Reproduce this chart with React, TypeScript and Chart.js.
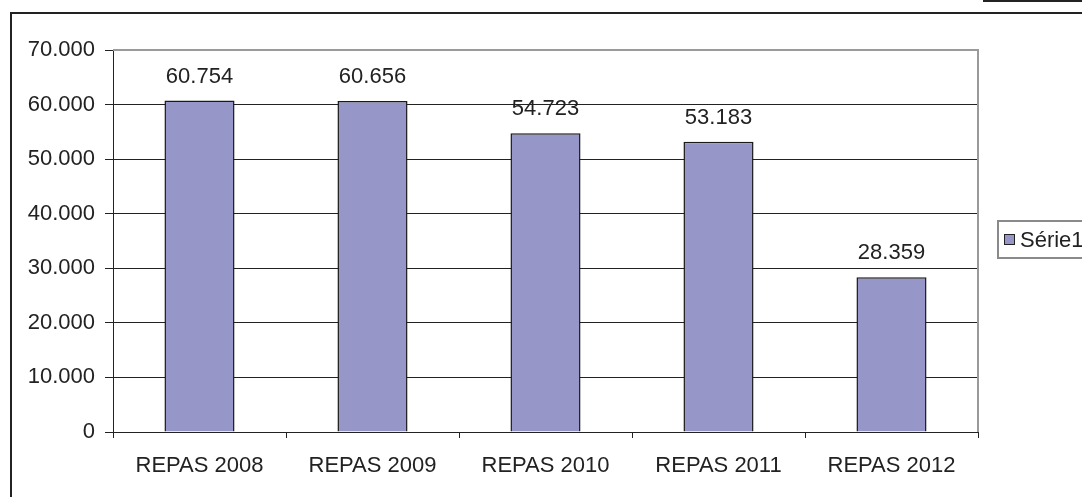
import React, { useEffect, useRef } from "react";
import { Chart, registerables } from "chart.js";

Chart.register(...registerables);

const categories = ["REPAS 2008", "REPAS 2009", "REPAS 2010", "REPAS 2011", "REPAS 2012"];
const values = [60754, 60656, 54723, 53183, 28359];
const seriesName = "Série1";
const yMax = 70000;
const yStep = 10000;

const FONT = "'Liberation Sans', Arial, sans-serif";
const BAR_COLOR = "#9696C8";

function fmt(v: number): string {
  return String(Math.round(v)).replace(/\B(?=(\d{3})+(?!\d))/g, ".");
}

const decorPlugin = {
  id: "decor",
  beforeDraw(chart: any) {
    const ctx = chart.ctx;
    ctx.save();
    ctx.fillStyle = "#fff";
    ctx.fillRect(0, 0, chart.width, chart.height);
    // outer frame
    ctx.strokeStyle = "#222";
    ctx.lineWidth = 2;
    ctx.strokeRect(11, 13, chart.width + 20, chart.height + 20);
    // small top-right line
    ctx.fillStyle = "#222";
    ctx.fillRect(983, 0, chart.width - 983, 2);
    ctx.restore();
  },
  afterDraw(chart: any) {
    const ctx = chart.ctx;
    const a = chart.chartArea;
    ctx.save();
    // plot area gray top and right border
    ctx.strokeStyle = "#9a9a9a";
    ctx.lineWidth = 2;
    ctx.beginPath();
    ctx.moveTo(a.left, a.top);
    ctx.lineTo(a.right, a.top);
    ctx.lineTo(a.right, a.bottom);
    ctx.stroke();
    // data labels
    const meta = chart.getDatasetMeta(0);
    ctx.fillStyle = "#222";
    ctx.font = `22px ${FONT}`;
    ctx.textAlign = "center";
    ctx.textBaseline = "middle";
    meta.data.forEach((bar: any, i: number) => {
      ctx.fillText(fmt(values[i]), bar.x, bar.y - 24);
    });
    // legend
    ctx.strokeStyle = "#8a8a8a";
    ctx.lineWidth = 2;
    ctx.strokeRect(998, 221, 120, 37);
    ctx.fillStyle = BAR_COLOR;
    ctx.fillRect(1004, 234, 11, 11);
    ctx.strokeStyle = "#222";
    ctx.lineWidth = 1;
    ctx.strokeRect(1004.5, 234.5, 10, 10);
    ctx.fillStyle = "#222";
    ctx.textAlign = "left";
    ctx.font = `22px ${FONT}`;
    ctx.fillText(seriesName, 1020, 241);
    ctx.restore();
  },
};

export default function App() {
  const ref = useRef<HTMLCanvasElement | null>(null);
  useEffect(() => {
    if (!ref.current) return;
    const chart = new Chart(ref.current, {
      type: "bar",
      data: {
        labels: categories,
        datasets: [
          {
            label: seriesName,
            data: values,
            backgroundColor: BAR_COLOR,
            borderColor: "#1a1a1a",
            borderWidth: 1.5,
            categoryPercentage: 1,
            barPercentage: 0.405,
          },
        ],
      },
      options: {
        responsive: false,
        animation: false,
        devicePixelRatio: 1,
        layout: { padding: { top: 50, right: 104, left: 0, bottom: 0 } },
        plugins: { legend: { display: false }, tooltip: { enabled: false } },
        scales: {
          x: {
            offset: true,
            grid: {
              offset: true,
              drawOnChartArea: false,
              drawTicks: true,
              tickLength: 6,
              color: "#222",
            },
            border: { color: "#222", width: 1 },
            ticks: {
              color: "#222",
              font: { family: FONT, size: 22 },
              padding: 15,
              maxRotation: 0,
            },
            afterFit: (s: any) => {
              s.height = 65;
            },
          },
          y: {
            min: 0,
            max: yMax,
            grid: {
              color: (c: any) => (c.tick && c.tick.value === yMax ? "rgba(0,0,0,0)" : "#222"),
              tickColor: "#222",
              drawTicks: true,
              tickLength: 8,
              lineWidth: 1,
            },
            border: { color: "#222", width: 1 },
            ticks: {
              stepSize: yStep,
              color: "#222",
              font: { family: FONT, size: 22 },
              padding: 10,
              callback: (v: any) => fmt(Number(v)),
            },
            afterFit: (s: any) => {
              s.width = 113;
            },
          },
        },
      },
      plugins: [decorPlugin],
    });
    return () => chart.destroy();
  }, []);
  return (
    <div style={{ position: "fixed", left: 0, top: 0, width: 1082, height: 497, background: "#fff" }}>
      <canvas ref={ref} width={1082} height={497} style={{ width: 1082, height: 497, display: "block" }} />
    </div>
  );
}
